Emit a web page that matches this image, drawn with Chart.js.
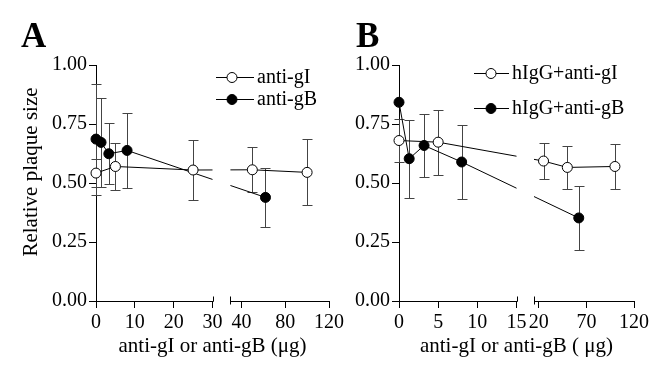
<!DOCTYPE html>
<html>
<head>
<meta charset="utf-8">
<title>Relative plaque size</title>
<script src="https://cdn.jsdelivr.net/npm/chart.js@4.4.0/dist/chart.umd.min.js"></script>
<style>
  body { margin: 0; background: #fff; }
  #wrap { position: relative; width: 662px; height: 369px; }
  canvas { position: absolute; top: 0; }
</style>
</head>
<body>
<div id="wrap">
  <canvas id="chartA" width="347" height="369" style="left:0"></canvas>
  <canvas id="chartB" width="315" height="369" style="left:347px"></canvas>
</div>
<script>
// ---- panel A: antibody alone ----
const aGI_x   = [0, 5, 25, 50, 100];
const aGI_y   = [0.542, 0.570, 0.555, 0.556, 0.545];
const aGI_err = [0.06, 0.10, 0.126, 0.095, 0.14];
const aGB_x   = [0, 1.3, 3.3, 8, 62];
const aGB_y   = [0.686, 0.672, 0.624, 0.638, 0.439];
const aGB_err = [0.235, 0.19, 0.13, 0.158, 0.125];
const xTicksA = [0, 10, 20, 30, 40, 80, 120];

// ---- panel B: hIgG + antibody ----
const bGI_x   = [0, 5, 25, 50, 100];
const bGI_y   = [0.680, 0.673, 0.593, 0.566, 0.570];
const bGI_err = [0.09, 0.137, 0.078, 0.09, 0.097];
const bGB_x   = [0, 1.3, 3.2, 8, 62];
const bGB_y   = [0.842, 0.603, 0.659, 0.589, 0.352];
const bGB_err = [0, 0.166, 0.133, 0.157, 0.136];
const xTicksB = [0, 5, 10, 15, 20, 70, 120];

const yTicks = [0, 0.25, 0.5, 0.75, 1];

Chart.defaults.font.family = '"Liberation Serif", "Times New Roman", serif';
Chart.defaults.font.size = 20;
Chart.defaults.color = '#000';

// broken x axis: value -> position along axis (in px of the chart area)
function breakMap(b) {
  return x => x <= b.lo ? x / b.lo * b.w1 : b.w1 + b.gap + (x - b.lo) / (b.max - b.lo) * b.w2;
}

function makePlugin(b) {
  return {
    id: 'brokenAxis',
    beforeDatasetsDraw(chart) {
      const ctx = chart.ctx, ys = chart.scales.y;
      ctx.save();
      ctx.strokeStyle = '#444';
      ctx.lineWidth = 1;
      chart.data.datasets.forEach((ds, i) => {
        chart.getDatasetMeta(i).data.forEach((pt, j) => {
          const e = ds.errors[j];
          if (!e) return;
          const v = ds.data[j].y;
          const px = Math.round(pt.x) + 0.5;
          const t = Math.round(ys.getPixelForValue(v + e)) + 0.5;
          const bt = Math.round(ys.getPixelForValue(v - e)) + 0.5;
          ctx.beginPath();
          ctx.moveTo(px, t); ctx.lineTo(px, bt);
          ctx.moveTo(px - 5, t); ctx.lineTo(px + 5, t);
          ctx.moveTo(px - 5, bt); ctx.lineTo(px + 5, bt);
          ctx.stroke();
        });
      });
      ctx.restore();
      // hide lines inside the axis break
      const xs = chart.scales.x;
      const g1 = xs.getPixelForValue(b.w1), g2 = xs.getPixelForValue(b.w1 + b.gap);
      ctx.save();
      ctx.beginPath();
      ctx.rect(0, 0, g1, chart.height);
      ctx.rect(g2, 0, chart.width - g2, chart.height);
      ctx.clip();
    },
    afterDatasetsDraw(chart) {
      chart.ctx.restore();
    },
    afterDraw(chart) {
      const ctx = chart.ctx, a = chart.chartArea, xs = chart.scales.x;
      const g1 = Math.round(xs.getPixelForValue(b.w1)) + 0.5;
      const g2 = Math.round(xs.getPixelForValue(b.w1 + b.gap)) + 0.5;
      const ya = Math.round(a.bottom) + 0.5;
      ctx.save();
      ctx.strokeStyle = '#000';
      ctx.lineWidth = 1;
      ctx.beginPath();
      ctx.moveTo(Math.round(a.left), ya); ctx.lineTo(g1, ya);
      ctx.moveTo(g2, ya); ctx.lineTo(Math.round(a.right) + 1, ya);
      ctx.moveTo(g1, ya - 5); ctx.lineTo(g1, ya);
      ctx.moveTo(g2, ya - 5); ctx.lineTo(g2, ya + 3);
      ctx.stroke();

      // legend
      ctx.font = '20px "Liberation Serif", serif';
      ctx.textBaseline = 'middle';
      ctx.fillStyle = '#000';
      b.legend.forEach((it, i) => {
        const ds = chart.data.datasets[i];
        ctx.beginPath();
        ctx.moveTo(it.x0, it.y + 0.5); ctx.lineTo(it.x1, it.y + 0.5);
        ctx.stroke();
        ctx.beginPath();
        ctx.arc(it.cx, it.y + 0.5, 5, 0, Math.PI * 2);
        ctx.fillStyle = ds.pointBackgroundColor;
        ctx.fill();
        ctx.stroke();
        ctx.fillStyle = '#000';
        ctx.fillText(ds.label, it.tx, it.y + 1);
      });

      // y axis title, sits a bit above the axis middle
      if (b.yTitle) {
        ctx.save();
        ctx.font = '21px "Liberation Serif", serif';
        ctx.textAlign = 'center';
        ctx.textBaseline = 'middle';
        ctx.translate(31, 172);
        ctx.rotate(-Math.PI / 2);
        ctx.fillText(b.yTitle, 0, 0);
        ctx.restore();
      }

      // panel letter
      ctx.font = 'bold 35px "Liberation Serif", serif';
      ctx.textBaseline = 'alphabetic';
      ctx.fillText(b.letter, b.letterX, 47);
      ctx.restore();
    }
  };
}

function series(label, xs, ys, errs, fill, map) {
  return {
    label: label,
    data: xs.map((x, i) => ({x: map(x), y: ys[i]})),
    errors: errs,
    borderColor: '#000',
    borderWidth: 1,
    pointRadius: 5,
    pointBorderWidth: 1,
    pointBorderColor: '#000',
    pointBackgroundColor: fill,
    backgroundColor: fill,
    tension: 0,
    clip: false
  };
}

function makePanel(id, b, sets, xTicks, xTitle, yWidth, pad) {
  const map = breakMap(b);
  new Chart(document.getElementById(id), {
    type: 'line',
    data: { datasets: sets.map(s => series(s[0], s[1], s[2], s[3], s[4], map)) },
    options: {
      responsive: false,
      animation: false,
      events: [],
      layout: { padding: pad },
      plugins: { legend: { display: false }, tooltip: { enabled: false } },
      scales: {
        x: {
          type: 'linear',
          min: 0,
          max: b.w1 + b.gap + b.w2,
          afterBuildTicks: s => { s.ticks = xTicks.map(v => ({value: map(v)})); },
          afterFit: s => { s.height = 68; },
          ticks: {
            autoSkip: false, maxRotation: 0, minRotation: 0, padding: 3,
            callback: (v, i) => String(xTicks[i])
          },
          grid: { drawOnChartArea: false, tickLength: 7, color: '#000' },
          border: { display: false },
          title: { display: true, text: xTitle, font: { size: 21 }, padding: { top: 0, bottom: 10 } }
        },
        y: {
          min: 0,
          max: 1,
          afterBuildTicks: s => { s.ticks = yTicks.map(v => ({value: v})); },
          afterFit: s => { s.width = yWidth; },
          ticks: { padding: 2, callback: v => v.toFixed(2) },
          grid: { drawOnChartArea: false, tickLength: 7, color: '#000' },
          border: { color: '#000' }
        }
      }
    },
    plugins: [makePlugin(b)]
  });
}

makePanel('chartA',
  { lo: 30, max: 120, w1: 117, gap: 18, w2: 99, letter: 'A', letterX: 21,
    yTitle: 'Relative plaque size',
    legend: [ { y: 77, x0: 216, x1: 254, cx: 232, tx: 257 },
              { y: 99, x0: 216, x1: 254, cx: 232, tx: 257 } ] },
  [ ['anti-gI', aGI_x, aGI_y, aGI_err, '#fff'],
    ['anti-gB', aGB_x, aGB_y, aGB_err, '#000'] ],
  xTicksA, 'anti-gI or anti-gB (\u03bcg)', 96,
  { left: 0, right: 17, top: 65, bottom: 0 });

makePanel('chartB',
  { lo: 15, max: 120, w1: 117.5, gap: 17.5, w2: 100, letter: 'B', letterX: 9,
    yTitle: '',
    legend: [ { y: 73, x0: 127, x1: 162, cx: 144, tx: 165 },
              { y: 108, x0: 127, x1: 162, cx: 144, tx: 165 } ] },
  [ ['hIgG+anti-gI', bGI_x, bGI_y, bGI_err, '#fff'],
    ['hIgG+anti-gB', bGB_x, bGB_y, bGB_err, '#000'] ],
  xTicksB, 'anti-gI or anti-gB ( \u03bcg)', 52,
  { left: 0, right: 28, top: 65, bottom: 0 });
</script>
</body>
</html>
